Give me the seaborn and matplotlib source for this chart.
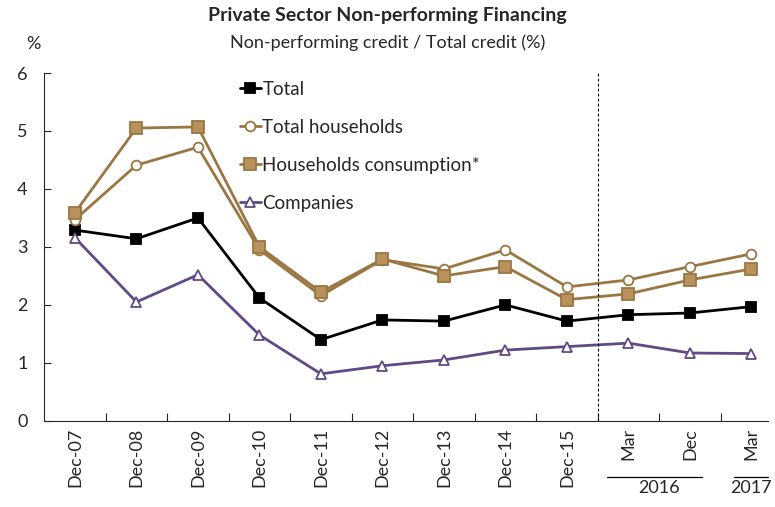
import seaborn as sns
import matplotlib.pyplot as plt
import pandas as pd

# Data
periods = ["Dec-07", "Dec-08", "Dec-09", "Dec-10", "Dec-11", "Dec-12", "Dec-13",
           "Dec-14", "Dec-15", "Mar", "Dec", "Mar"]
total = [3.29, 3.14, 3.50, 2.12, 1.40, 1.74, 1.72, 2.00, 1.72, 1.83, 1.86, 1.97]
total_households = [3.47, 4.41, 4.72, 2.95, 2.16, 2.78, 2.62, 2.95, 2.31, 2.43, 2.66, 2.88]
households_consumption = [3.59, 5.05, 5.07, 3.00, 2.22, 2.79, 2.50, 2.66, 2.09, 2.19, 2.43, 2.62]
companies = [3.16, 2.05, 2.52, 1.48, 0.81, 0.95, 1.05, 1.22, 1.28, 1.34, 1.17, 1.16]

series = {
    "Total": total,
    "Total households": total_households,
    "Households consumption*": households_consumption,
    "Companies": companies,
}

rows = []
for name, vals in series.items():
    for i, v in enumerate(vals):
        rows.append({"pos": i, "value": v, "series": name})
df = pd.DataFrame(rows)

sns.set_style("ticks")
plt.rcParams['font.family'] = ['Lato', 'DejaVu Sans']

brown = "#9a7643"
tan = "#b8925a"
purple = "#5f4a85"

styles = {
    "Total": dict(color="black", marker="s", markersize=7, mfc="black", mec="black"),
    "Total households": dict(color=brown, marker="o", markersize=7, mfc="white", mec=brown),
    "Households consumption*": dict(color=brown, marker="s", markersize=8, mfc=tan, mec=brown),
    "Companies": dict(color=purple, marker="^", markersize=7, mfc="white", mec=purple),
}

fig = plt.figure(figsize=(7.75, 5.07), dpi=100)
ax = fig.add_axes([0.057, 0.170, 0.934, 0.686])

for name in series:
    st = styles[name]
    sns.lineplot(data=df[df["series"] == name], x="pos", y="value", ax=ax,
                 color=st["color"], marker=st["marker"], markersize=st["markersize"],
                 markerfacecolor=st["mfc"], markeredgecolor=st["mec"], markeredgewidth=1.3,
                 linewidth=2, label=name)

ax.set_xlim(-0.5, 11.27)
ax.set_ylim(0, 6)
ax.set_yticks(range(0, 7))
ax.tick_params(axis="y", direction="in", length=5, labelsize=13, pad=12)
ax.set_xticks([i + 0.5 for i in range(len(periods) - 1)])
ax.tick_params(axis="x", direction="in", length=6, labelbottom=False)
trans = ax.get_xaxis_transform()
for i, lab in enumerate(periods):
    ax.text(i, -0.02, lab, rotation=90, ha="center", va="top", fontsize=13,
            transform=trans)
ax.set_xlabel("")
ax.set_ylabel("")
for s in ["top", "right"]:
    ax.spines[s].set_visible(False)

# dashed separator
ax.axvline(8.5, color="black", linestyle=(0, (2.5, 2)), linewidth=0.8)

# year labels
ax.plot([8.65, 10.2], [-0.161, -0.161], color="black", lw=0.9, transform=trans, clip_on=False)
ax.text(9.5, -0.17, "2016", ha="center", va="top", fontsize=13, transform=trans)
ax.plot([10.72, 11.27], [-0.161, -0.161], color="black", lw=0.9, transform=trans, clip_on=False)
ax.text(11.0, -0.17, "2017", ha="center", va="top", fontsize=13, transform=trans)

leg = ax.legend(loc="upper left", bbox_to_anchor=(0.26, 1.0), frameon=False, fontsize=13.5,
                handlelength=1.1, handletextpad=0.1, labelspacing=1.12, borderaxespad=0)

fig.text(0.5, 0.97, "Private Sector Non-performing Financing", ha="center", va="center",
         fontsize=14, fontweight="bold")
fig.text(0.5, 0.915, "Non-performing credit / Total credit (%)", ha="center", va="center",
         fontsize=13)
fig.text(0.043, 0.913, "%", ha="center", va="center", fontsize=13)

fig.savefig("out.png", dpi=100)
